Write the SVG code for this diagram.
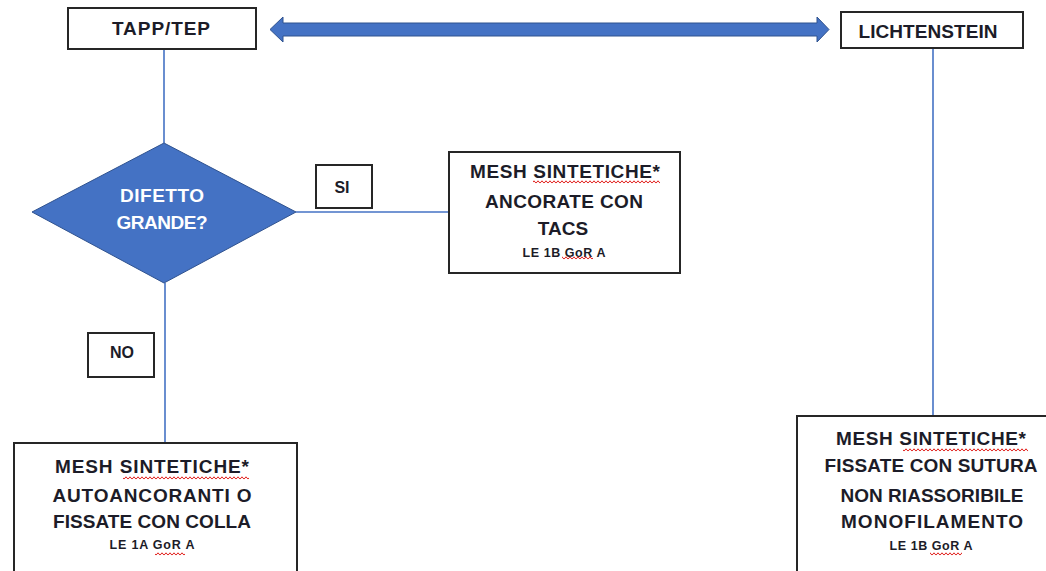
<svg xmlns="http://www.w3.org/2000/svg" width="1046" height="571" viewBox="0 0 1046 571">
  <style>
    .box { fill: #ffffff; stroke: #262626; stroke-width: 2; }
    .link { fill: none; stroke: #4472C4; stroke-width: 1.6; }
    .t { font-family: "Liberation Sans", Arial, sans-serif; font-weight: bold; fill: #1c1c28; text-anchor: middle; font-size: 19px; }
    .small { font-size: 12.5px; }
    .lbl { font-size: 16px; }
    .white { fill: #ffffff; }
    .wave { fill: url(#squiggle); }
  </style>
  <defs>
    <!-- red wavy spell-check underline -->
    <pattern id="squiggle" x="0" y="0" width="4" height="4" patternUnits="userSpaceOnUse">
      <path d="M0,3.2 L2,0.8 L4,3.2" fill="none" stroke="#e0201c" stroke-width="1"/>
    </pattern>
  </defs>

  <!-- connectors -->
  <g id="connectors">
    <line class="link" x1="164" y1="49" x2="164" y2="143"/>
    <line class="link" x1="296" y1="212" x2="449" y2="212"/>
    <line class="link" x1="165" y1="283" x2="165" y2="443"/>
    <line class="link" x1="933" y1="48" x2="933" y2="416"/>
    <!-- double-headed arrow between the two approaches -->
    <polygon points="270,29.5 283,17 283,23 817,23 817,17 829,29.5 817,42 817,36 283,36 283,42" fill="#4472C4" stroke="#2F528F" stroke-width="1"/>
  </g>

  <g id="tapp-tep">
    <rect class="box" x="68" y="8" width="188" height="41"/>
    <text class="t" x="161" y="35" textLength="98" lengthAdjust="spacing">TAPP/TEP</text>
  </g>

  <g id="lichtenstein">
    <rect class="box" x="841" y="12" width="182" height="36"/>
    <text class="t" x="928" y="38" textLength="139" lengthAdjust="spacing">LICHTENSTEIN</text>
  </g>

  <g id="difetto-grande">
    <polygon points="32,212 164,143 296,212 164,283" fill="#4472C4" stroke="#2F528F" stroke-width="1"/>
    <text class="t white" x="162" y="202" textLength="84" lengthAdjust="spacing">DIFETTO</text>
    <text class="t white" x="162" y="229" textLength="91" lengthAdjust="spacing">GRANDE?</text>
  </g>

  <g id="label-si">
    <rect class="box" x="316" y="165" width="56" height="43"/>
    <text class="t lbl" x="342" y="193">SI</text>
  </g>

  <g id="label-no">
    <rect class="box" x="88" y="333" width="66" height="44"/>
    <text class="t lbl" x="122" y="358">NO</text>
  </g>

  <g id="mesh-tacs">
    <rect class="box" x="449" y="152" width="231" height="121"/>
    <text class="t" x="565" y="178" textLength="190" lengthAdjust="spacing">MESH SINTETICHE*</text>
    <text class="t" x="564" y="208" textLength="158" lengthAdjust="spacing">ANCORATE CON</text>
    <text class="t" x="563" y="235">TACS</text>
    <text class="t small" x="564" y="257" textLength="83" lengthAdjust="spacing">LE 1B GoR A</text>
    <rect class="wave" x="533" y="180" width="127" height="4"/>
    <rect class="wave" x="562" y="256" width="31" height="4"/>
  </g>

  <g id="mesh-colla">
    <rect class="box" x="14" y="443" width="283" height="140"/>
    <text class="t" x="152" y="473" textLength="194" lengthAdjust="spacing">MESH SINTETICHE*</text>
    <text class="t" x="152" y="502" textLength="199" lengthAdjust="spacing">AUTOANCORANTI O</text>
    <text class="t" x="152" y="528" textLength="198" lengthAdjust="spacing">FISSATE CON COLLA</text>
    <text class="t small" x="152" y="549" textLength="85" lengthAdjust="spacing">LE 1A GoR A</text>
    <rect class="wave" x="123" y="476" width="126" height="4"/>
    <rect class="wave" x="155" y="552" width="30" height="4"/>
  </g>

  <g id="mesh-sutura">
    <rect class="box" x="797" y="416" width="260" height="170"/>
    <text class="t" x="931" y="445" textLength="190" lengthAdjust="spacing">MESH SINTETICHE*</text>
    <text class="t" x="931" y="472" textLength="213" lengthAdjust="spacing">FISSATE CON SUTURA</text>
    <text class="t" x="932" y="502" textLength="183" lengthAdjust="spacing">NON RIASSORIBILE</text>
    <text class="t" x="932" y="528" textLength="182" lengthAdjust="spacing">MONOFILAMENTO</text>
    <text class="t small" x="931" y="550" textLength="83" lengthAdjust="spacing">LE 1B GoR A</text>
    <rect class="wave" x="903" y="448" width="125" height="4"/>
    <rect class="wave" x="930" y="552" width="32" height="4"/>
  </g>
</svg>
